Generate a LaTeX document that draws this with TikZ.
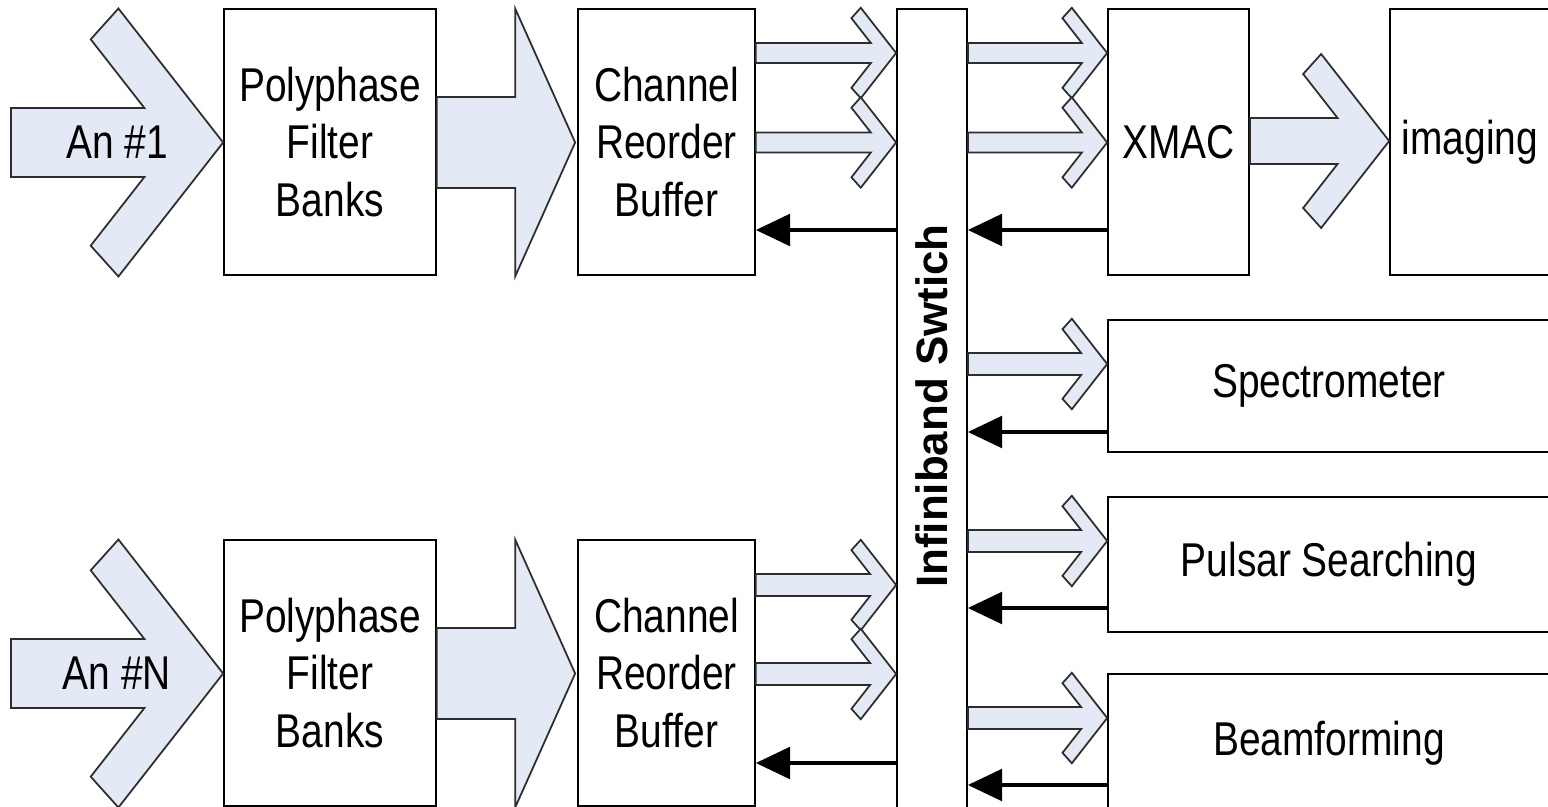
\documentclass[tikz,border=0pt]{standalone}
\usepackage{fontspec}
\setmainfont{Liberation Sans}[FakeStretch=0.82]
\newfontfamily\swfont{Liberation Sans}
\usetikzlibrary{positioning, arrows.meta, calc}
\definecolor{cflujo}{RGB}{227,233,245}
\definecolor{cborde}{RGB}{45,45,45}

% flecha con punta abierta: desde, hasta, y, escala punta, medio ancho cola
\newcommand\chev[5]{%
  \coordinate (cb) at (#1 |- 0,#3);
  \coordinate (ct) at (#2 |- 0,#3);
  \pgfmathsetmacro\cj{-86*#4+68*(67*#4-#5)/87}
  \draw[flujo] ($(cb)+(0,-#5)$) -- ($(ct)+(\cj,-#5)$) -- ($(ct)+({-86*#4},{-67*#4})$)
    -- ($(ct)+({-68*#4},{-87*#4})$) -- (ct) -- ($(ct)+({-68*#4},{87*#4})$)
    -- ($(ct)+({-86*#4},{67*#4})$) -- ($(ct)+(\cj,#5)$) -- ($(cb)+(0,#5)$) -- cycle;}
% flecha gruesa con punta triangular
\newcommand\gordo[3]{%
  \coordinate (gb) at (#1 |- 0,#3);
  \coordinate (gt) at (#2 |- 0,#3);
  \draw[flujo] ($(gb)+(0,-45.5)$) -- ($(gt)+(-62,-45.5)$) -- ($(gt)+(-62,-134)$)
    -- ($(gt)+(-2,0)$) -- ($(gt)+(-62,134)$) -- ($(gt)+(-62,45.5)$) -- ($(gb)+(0,45.5)$) -- cycle;}

\begin{document}
\begin{tikzpicture}[x=0.02cm, y=-0.02cm, font=\fontsize{27}{32.6}\selectfont,
    caja/.style={draw, line width=1pt, fill=white, align=center, inner sep=0pt},
    bx/.style 2 args={minimum width=#1*0.569pt, minimum height=#2*0.569pt},
    flujo/.style={draw=cborde, line width=1pt, fill=cflujo},
    ret/.style={line width=2.2pt, -{Triangle[length=19.5pt, width=18pt]}},
    swlab/.style={font=\swfont\bfseries\fontsize{25}{30}\selectfont, rotate=90}]

  \clip (0,0) rectangle (1548,807);

  % bloques
  \node[caja, bx={212}{266}] (pfbA) at (330,142) {Polyphase\\Filter\\Banks};
  \node[caja, bx={177}{266}] (crbA) at (666.5,142) {Channel\\Reorder\\Buffer};
  \node[caja, bx={212}{266}] (pfbN) at (330,673) {Polyphase\\Filter\\Banks};
  \node[caja, bx={177}{266}] (crbN) at (666.5,673) {Channel\\Reorder\\Buffer};
  \node[caja, bx={70}{820}] (sw) at (932,419) {};
  \node[swlab] (swtxt) at (932,406) {Infiniband Swtich};
  \node[caja, bx={141}{266}] (xmac) at (1178.5,142) {XMAC};
  \node[caja, bx={160}{266}] (img) at (1470,142) {imaging};
  \node[caja, bx={442}{132}] (spec) at (1329,386) {Spectrometer};
  \node[caja, bx={442}{135}] (puls) at (1329,564.5) {Pulsar Searching};
  \node[caja, bx={442}{138}] (beam) at (1329,743) {Beamforming};

  % antenas
  \coordinate (inA) at (11,142);
  \coordinate (inN) at (11,673);
  \chev{inA}{pfbA.west}{142.5}{1.54}{34.5}
  \chev{inN}{pfbN.west}{673.5}{1.54}{34.5}
  \node (anA) at (117,142) {An \#1};
  \node (anN) at (117,673) {An \#N};

  % flujos de datos
  \gordo{pfbA.east}{crbA.west}{142.5}
  \gordo{pfbN.east}{crbN.west}{673.5}
  \chev{crbA.east}{sw.west}{53}{0.52}{10}
  \chev{crbA.east}{sw.west}{142.5}{0.52}{10}
  \chev{crbN.east}{sw.west}{585}{0.52}{11}
  \chev{crbN.east}{sw.west}{674}{0.52}{11}
  \chev{sw.east}{xmac.west}{53}{0.52}{10}
  \chev{sw.east}{xmac.west}{142.5}{0.52}{10}
  \chev{xmac.east}{img.west}{141}{1.0}{23}
  \chev{sw.east}{spec.west}{364}{0.52}{11}
  \chev{sw.east}{puls.west}{541}{0.52}{11}
  \chev{sw.east}{beam.west}{718}{0.52}{11}

  % retorno
  \draw[ret] (sw.west |- 0,230) -- (crbA.east |- 0,230);
  \draw[ret] (sw.west |- 0,763) -- (crbN.east |- 0,763);
  \draw[ret] (xmac.west |- 0,230) -- (sw.east |- 0,230);
  \draw[ret] (spec.west |- 0,432) -- (sw.east |- 0,432);
  \draw[ret] (puls.west |- 0,608) -- (sw.east |- 0,608);
  \draw[ret] (beam.west |- 0,785) -- (sw.east |- 0,785);
\end{tikzpicture}
\end{document}
